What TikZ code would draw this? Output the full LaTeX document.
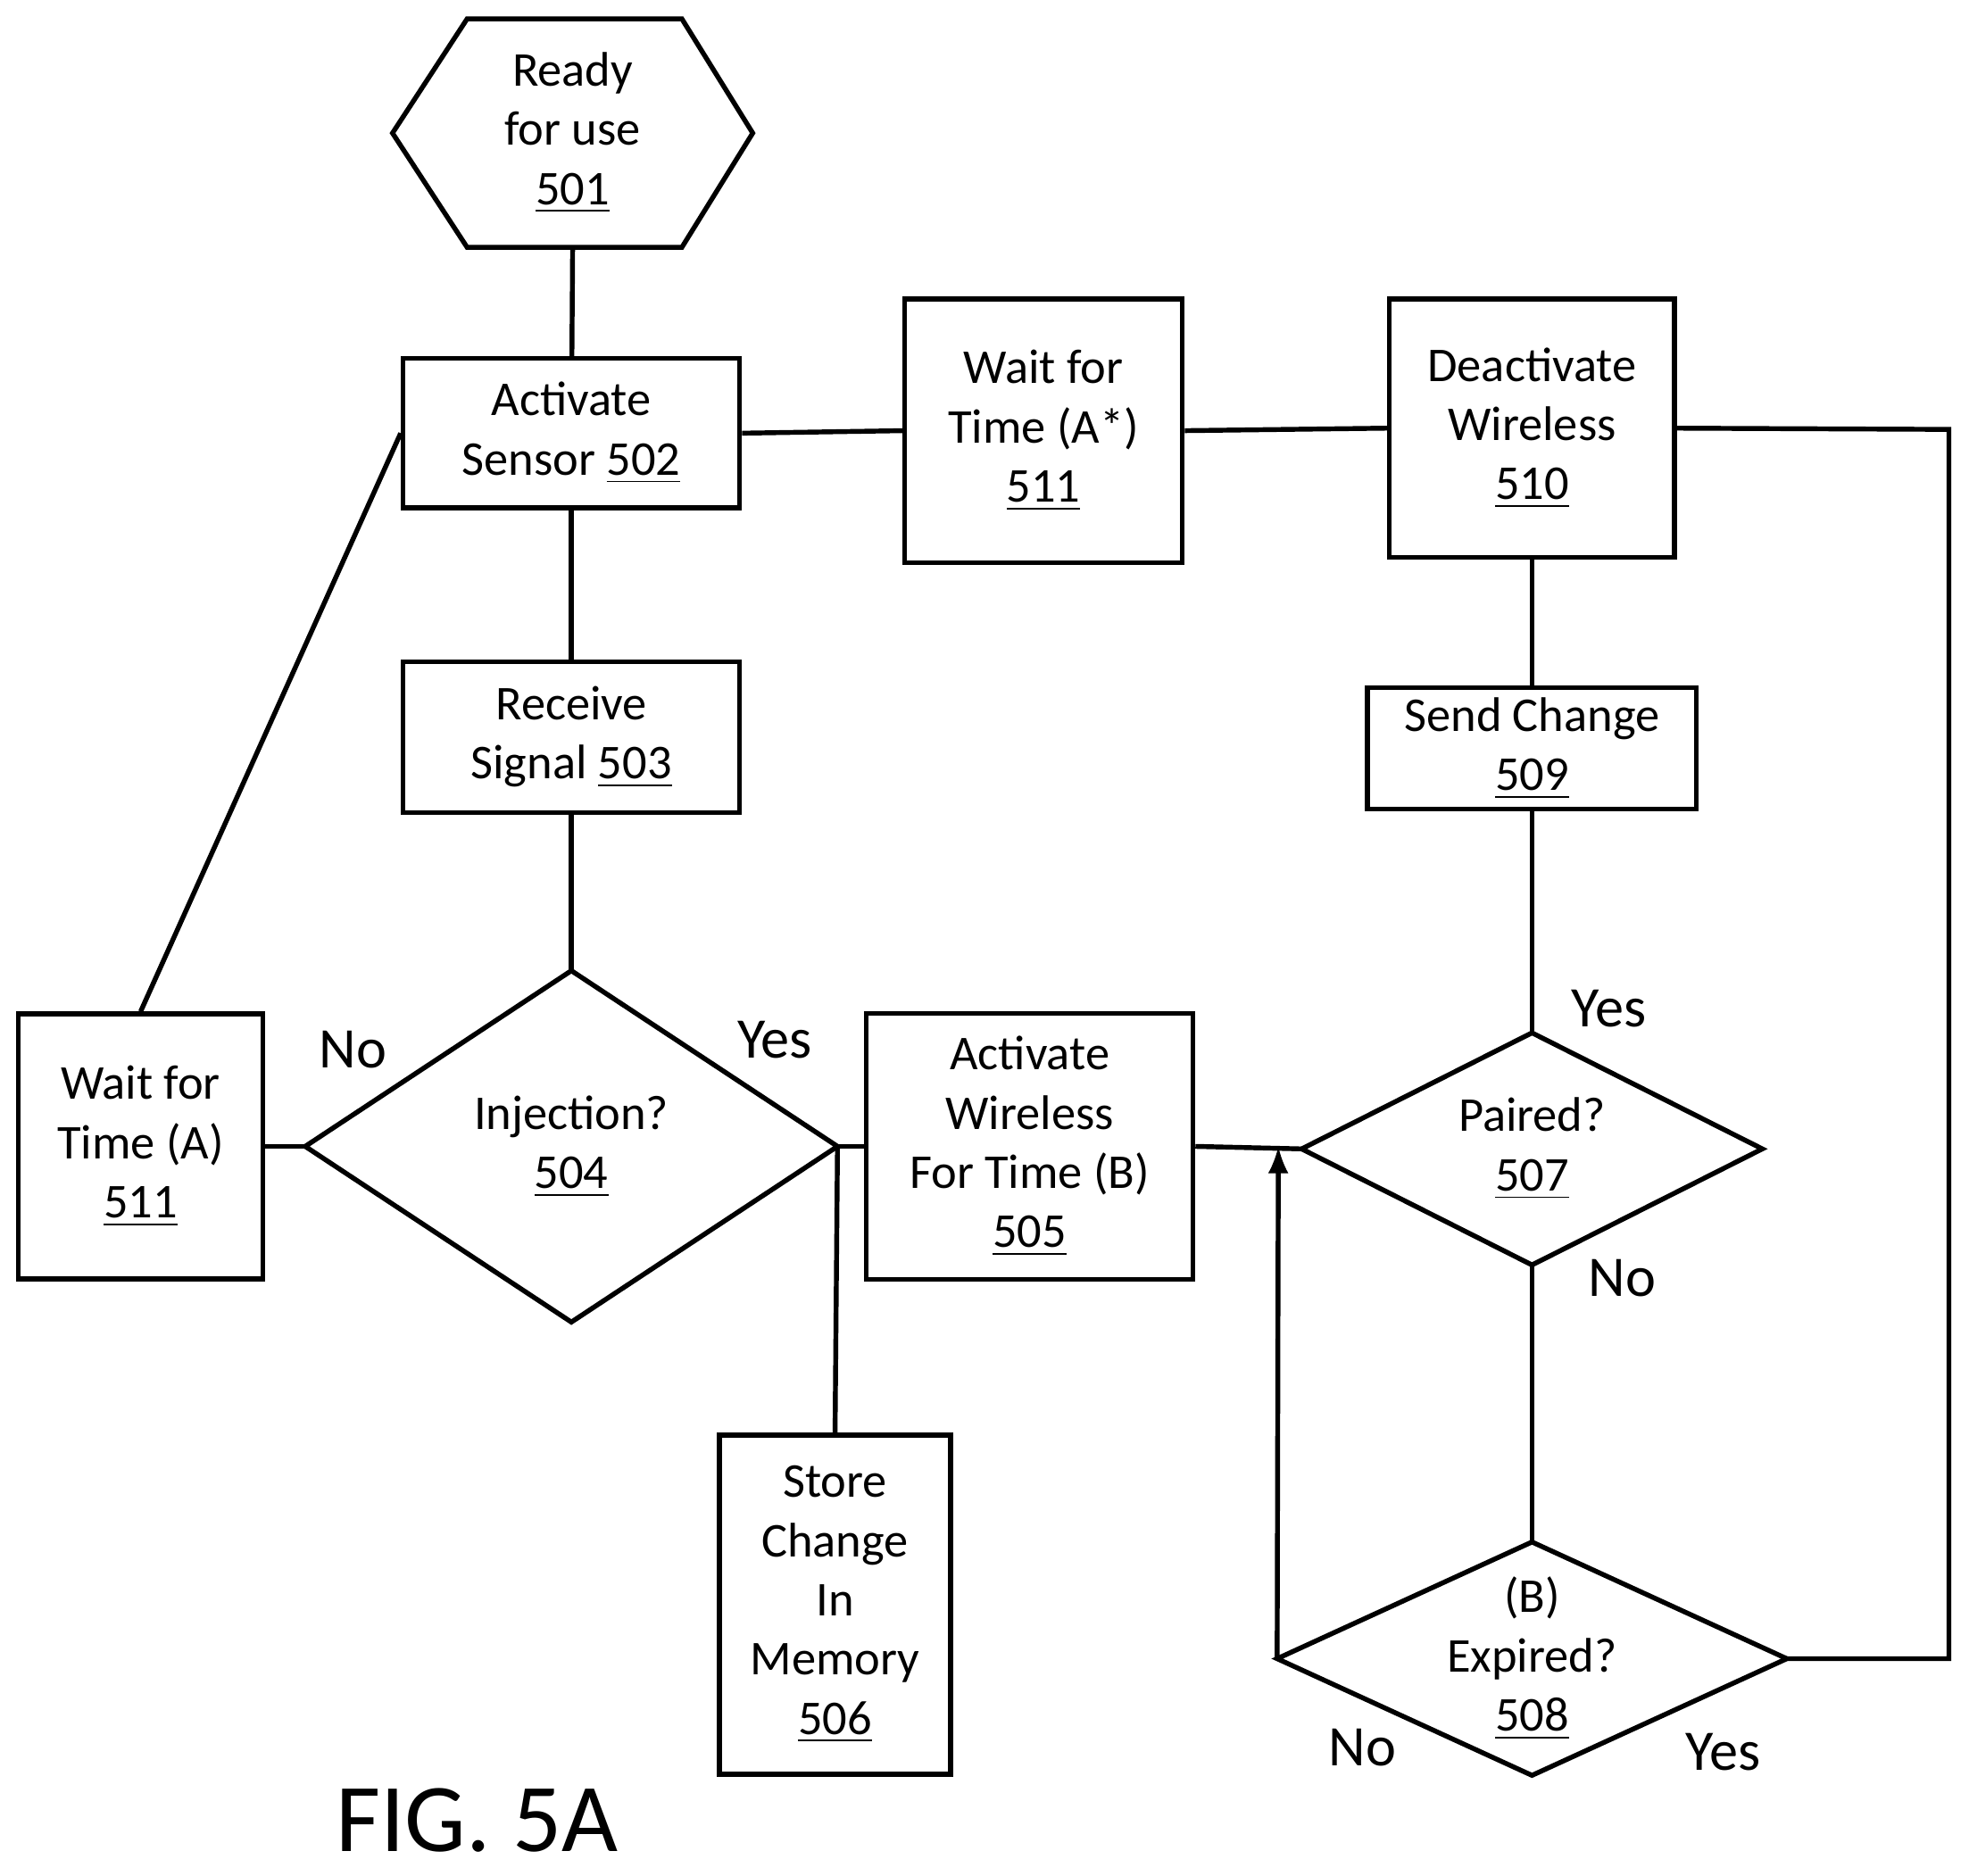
\documentclass[tikz,border=0pt]{standalone}
\usepackage{fontspec}
\setmainfont{Carlito}
\usetikzlibrary{positioning}

\begin{document}
\begin{tikzpicture}[x=0.01cm, y=-0.01cm, >=latex, line width=1.1pt,
	every node/.style={font=\fontsize{11}{13.4}\selectfont, align=center},
	box/.style 2 args={draw, minimum width=#1*0.01cm, minimum height=#2*0.01cm, inner sep=0pt},
	frame/.style 2 args={minimum width=#1*0.01cm, minimum height=#2*0.01cm, inner sep=0pt},
	lbl/.style={font=\fontsize{13}{15}\selectfont}]

	\useasboundingbox (0,0) rectangle (1568,1494);

	% === TOP ===
	\node [frame={283}{182}] (n501) at (456,106) {Ready\\for use\\\underline{501}};
	\draw (n501.west) -- (372,15) -- (543,15) -- (n501.east) -- (543,197) -- (372,197) -- cycle;
	\node [box={268}{119}] (n502) at (455,345) {Activate\\Sensor \underline{502}};
	\node [box={268}{120}] (n503) at (455,587) {Receive\\Signal \underline{503}};
	\node [box={221}{210}] (n511b) at (831,343) {Wait for\\Time (A*)\\\underline{511}};
	\node [box={227}{206}] (n510) at (1220,341) {Deactivate\\Wireless\\\underline{510}};
	\node [box={262}{97}] (n509) at (1220,596) {Send Change\\\underline{509}};

	% === MIDDLE ===
	\node [frame={420}{276}] (n504) at (455,913) {Injection?\\\underline{504}};
	\draw (n504.west) -- (n504.north) -- (n504.east) -- (n504.south) -- cycle;
	\node [box={195}{211}] (n511a) at (112,913) {Wait for\\Time (A)\\\underline{511}};
	\node [box={260}{212}] (n505) at (820,913) {Activate\\Wireless\\For Time (B)\\\underline{505}};
	\node [box={184}{270}] (n506) at (665,1278) {Store\\Change\\In\\Memory\\\underline{506}};
	\node [frame={363}{181}] (n507) at (1220,915) {Paired?\\\underline{507}};
	\draw (n507.west) -- (n507.north) -- (n507.east) -- (n507.south) -- cycle;
	\node [frame={402}{182}] (n508) at (1220,1321) {(B)\\Expired?\\\underline{508}};
	\draw (n508.west) -- (n508.north) -- (n508.east) -- (n508.south) -- cycle;

	% === CONNECTORS ===
	\draw (n501.south) -- (n502);
	\draw (n502) -- (n503);
	\draw (n503) -- (n504.north);
	\draw (n502.west) -- (n511a.north);
	\draw (n511a.east) -- (n504.west);
	\draw (n504.east) -- (n505.west);
	\draw (n504.east) -- (n506.north);
	\draw (n502.east) -- (n511b.west);
	\draw (n511b.east) -- (n510.west);
	\draw (n510) -- (n509);
	\draw (n509) -- (n507.north);
	\draw (n505.east) -- (n507.west);
	\draw (n507.south) -- (n508.north);
	\coordinate (turn) at (1018,913);
	\draw [->] (n508.west) -- (turn);
	\draw (n508.east) -- (1552,1321) -- (1552,342) -- (n510.east);

	% === LABELS ===
	\node [lbl] at (281,836) {No};
	\node [lbl] at (617,828) {Yes};
	\node [lbl] at (1281,803) {Yes};
	\node [lbl] at (1292,1018) {No};
	\node [lbl] at (1085,1392) {No};
	\node [lbl] at (1372,1395) {Yes};
	\node [font=\fontsize{22}{26}\selectfont] at (380,1450) {FIG. 5A};

\end{tikzpicture}
\end{document}
